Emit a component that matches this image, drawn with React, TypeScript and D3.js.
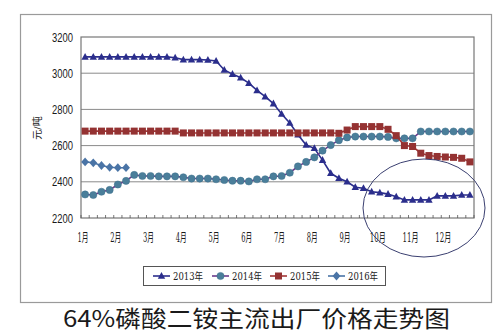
import React from "react";
import * as d3 from "d3";

const months = ["1月","2月","3月","4月","5月","6月","7月","8月","9月","10月","11月","12月"];
const yTicks = [2200, 2400, 2600, 2800, 3000, 3200];
const seriesNames = ["2013年", "2014年", "2015年", "2016年"];

const s2013 = [3090,3090,3090,3090,3090,3090,3090,3090,3090,3090,3090,3085,3075,3075,3075,3073,3068,3018,2995,2975,2945,2905,2870,2832,2775,2725,2660,2603,2585,2520,2447,2420,2400,2370,2364,2345,2340,2332,2318,2300,2300,2300,2300,2322,2322,2322,2327,2327];
const s2014 = [2330,2327,2345,2355,2385,2405,2438,2432,2432,2430,2430,2430,2425,2418,2418,2418,2414,2410,2406,2406,2402,2414,2414,2430,2432,2450,2485,2510,2535,2572,2603,2630,2645,2650,2650,2650,2650,2648,2640,2640,2640,2678,2678,2678,2678,2678,2678,2678];
const s2015 = [2680,2680,2680,2680,2680,2680,2680,2680,2680,2680,2680,2680,2670,2670,2670,2670,2670,2670,2670,2670,2670,2670,2670,2670,2670,2670,2670,2670,2670,2670,2670,2668,2686,2705,2705,2705,2705,2690,2655,2600,2595,2558,2545,2540,2537,2535,2530,2510];
const s2016 = [2510,2505,2490,2480,2478,2478];

const N = 48;
const L = 81, R = 474, T = 37, B = 218;

function Marker({ type, x, y, color }: { type: string; x: number; y: number; color: string }) {
  if (type === "tri") {
    return <path d={`M${x},${y - 4}L${x + 3.7},${y + 2.8}L${x - 3.7},${y + 2.8}Z`} fill={color} />;
  }
  if (type === "circ") {
    return <circle cx={x} cy={y} r={3.6} fill={color} stroke="#3d6f8a" strokeWidth={0.5} />;
  }
  if (type === "sq") {
    return <rect x={x - 3.5} y={y - 3.5} width={7} height={7} fill={color} />;
  }
  return <path d={`M${x},${y - 4.4}L${x + 3.9},${y}L${x},${y + 4.4}L${x - 3.9},${y}Z`} fill={color} />;
}

const styles = [
  { data: s2013, line: "#2b2e8c", mark: "#2b2e8c", type: "tri" },
  { data: s2014, line: "#6a3a8c", mark: "#4a7e9a", type: "circ" },
  { data: s2015, line: "#a23636", mark: "#943232", type: "sq" },
  { data: s2016, line: "#4a74a6", mark: "#4a74a6", type: "dia" },
];

export default function App() {
  const x = d3.scaleBand<number>().domain(d3.range(N)).range([L, R]);
  const bw = x.bandwidth();
  const cx = (i: number) => (x(i) as number) + bw / 2;
  const y = d3.scaleLinear().domain([2200, 3200]).range([B, T]);
  const line = d3.line<number>().x((_, i) => cx(i)).y((d) => y(d));

  const serif = "'DejaVu Serif', 'Liberation Serif', 'Noto Sans CJK SC', serif";
  const sans = "'Liberation Sans', Arial, 'Noto Sans CJK SC', sans-serif";

  const legendX = [153, 212, 270, 328];

  return (
    <svg width={500} height={336} style={{ position: "absolute", left: 0, top: 0, background: "#fff" }}>
      <rect x={0} y={0} width={500} height={336} fill="#fff" />
      <rect x={20.5} y={14.5} width={471} height={288} fill="none" stroke="#9a9a9a" strokeWidth={1.2} />
      {yTicks.map((t) => (
        <g key={t}>
          {t > 2200 && t < 3200 && (
            <line x1={L} x2={R} y1={y(t)} y2={y(t)} stroke="#8a8a8a" strokeWidth={1} />
          )}
          <text x={73} y={y(t) + 4.5} textAnchor="end" fontSize={12} fontFamily={sans} fill="#1a1a1a"
            textLength={21} lengthAdjust="spacingAndGlyphs">{t}</text>
        </g>
      ))}
      <rect x={L} y={T} width={R - L} height={B - T} fill="none" stroke="#777" strokeWidth={1.2} />
      {d3.range(N + 1).map((i) => {
        const xx = L + i * bw;
        return <line key={i} x1={xx} x2={xx} y1={B} y2={B - 3} stroke="#555" strokeWidth={0.8} />;
      })}
      {months.map((m, k) => (
        <text key={m} x={L + 2 + k * 4 * bw} y={241.5} textAnchor="middle" fontSize={12} fontFamily={serif} fill="#1a1a1a"
          textLength={m.length > 2 ? 16 : 11} lengthAdjust="spacingAndGlyphs">{m}</text>
      ))}
      <text transform={`translate(41,128) rotate(-90)`} textAnchor="middle" fontSize={10} fontFamily={serif} fill="#222">元/吨</text>
      {styles.map((s, k) => (
        <g key={k}>
          <path d={line(s.data) || ""} fill="none" stroke={s.line} strokeWidth={1.6} />
          {s.data.map((v, i) => (
            <Marker key={i} type={s.type} x={cx(i)} y={y(v)} color={s.mark} />
          ))}
        </g>
      ))}
      <ellipse cx={424} cy={208} rx={61} ry={49} fill="none" stroke="#3a3f70" strokeWidth={1} />
      <rect x={143.5} y={266.5} width={242} height={19} fill="#fff" stroke="#555" strokeWidth={1} />
      {styles.map((s, k) => (
        <g key={k}>
          <line x1={legendX[k]} x2={legendX[k] + 17} y1={276} y2={276} stroke={s.line} strokeWidth={1.6} />
          <Marker type={s.type} x={legendX[k] + 8.5} y={276} color={s.mark} />
          <text x={legendX[k] + 20} y={280} fontSize={10.5} fontFamily={serif} fill="#222"
            textLength={30} lengthAdjust="spacingAndGlyphs">{seriesNames[k]}</text>
        </g>
      ))}
      <text x={63} y={327} fontSize={23} fontFamily="'Noto Sans CJK SC', sans-serif" fill="#1a1a1a"
        textLength={387} lengthAdjust="spacingAndGlyphs">64%磷酸二铵主流出厂价格走势图</text>
    </svg>
  );
}
